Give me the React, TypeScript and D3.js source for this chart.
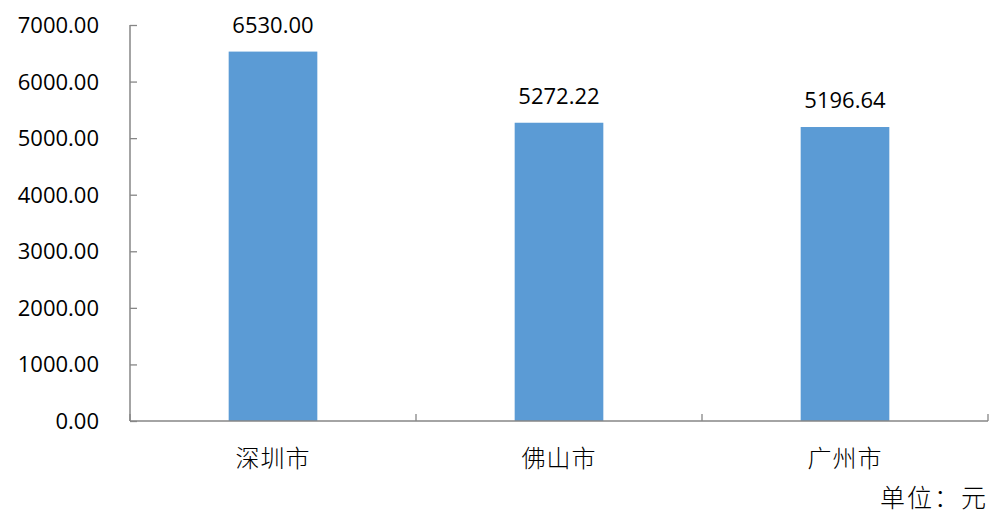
import { useEffect, useRef } from 'react';
import * as d3 from 'd3';

const cities = ['深圳市', '佛山市', '广州市'];
const values = [6530.0, 5272.22, 5196.64];
const yTicks = [0, 1000, 2000, 3000, 4000, 5000, 6000, 7000];
const unitLabel = '单位：元';

const App = () => {
  const svgRef = useRef<SVGSVGElement>(null);
  const width = 992;
  const height = 515;

  useEffect(() => {
    if (!svgRef.current) return;
    const svg = d3.select(svgRef.current);
    svg.selectAll('*').remove();

    const left = 130;
    const right = 988;
    const top = 25;
    const bottom = 421;
    const numFont = '"Open Sans", sans-serif';
    const cjkFont = '"Noto Sans CJK SC", sans-serif';

    const x = d3.scaleBand().domain(cities).range([left, right]).padding(0);
    const y = d3.scaleLinear().domain([0, 7000]).range([bottom, top]);

    const barW = x.bandwidth() * 0.31;

    // Bars
    svg.selectAll('.bar')
      .data(cities)
      .join('rect')
      .attr('class', 'bar')
      .attr('x', (d) => (x(d) || 0) + x.bandwidth() / 2 - barW / 2)
      .attr('y', (_, i) => y(values[i]))
      .attr('width', barW)
      .attr('height', (_, i) => bottom - y(values[i]))
      .attr('fill', '#5B9BD5');

    // Data labels
    svg.selectAll('.val')
      .data(cities)
      .join('text')
      .attr('class', 'val')
      .attr('x', (d) => (x(d) || 0) + x.bandwidth() / 2)
      .attr('y', (_, i) => y(values[i]) - 19)
      .attr('text-anchor', 'middle')
      .style('font-family', numFont)
      .style('font-size', '22px')
      .style('fill', '#000')
      .text((_, i) => values[i].toFixed(2));

    // Y axis
    const yAxis = d3.axisLeft(y).tickValues(yTicks).tickSize(-7).tickFormat(() => '');
    const gy = svg.append('g').attr('transform', `translate(${left},0)`).call(yAxis);
    gy.select('.domain').remove();
    gy.selectAll('.tick line').attr('stroke', '#868686').attr('stroke-width', 1.3);
    svg.append('line')
      .attr('x1', left).attr('x2', left)
      .attr('y1', top).attr('y2', bottom)
      .attr('stroke', '#868686').attr('stroke-width', 1.5);

    svg.selectAll('.ylab')
      .data(yTicks)
      .join('text')
      .attr('class', 'ylab')
      .attr('x', 99)
      .attr('y', (d) => y(d) + 8)
      .attr('text-anchor', 'end')
      .style('font-family', numFont)
      .style('font-size', '22px')
      .style('fill', '#000')
      .text((d) => d.toFixed(2));

    // X axis
    const xTickPos = [left, ...cities.map((c) => (x(c) || 0) + x.bandwidth())];
    svg.append('line')
      .attr('x1', left).attr('x2', right)
      .attr('y1', bottom).attr('y2', bottom)
      .attr('stroke', '#868686').attr('stroke-width', 1.5);
    svg.selectAll('.xtick')
      .data(xTickPos)
      .join('line')
      .attr('class', 'xtick')
      .attr('x1', (d) => d).attr('x2', (d) => d)
      .attr('y1', bottom).attr('y2', bottom - 7)
      .attr('stroke', '#868686').attr('stroke-width', 1.3);

    svg.selectAll('.xlab')
      .data(cities)
      .join('text')
      .attr('class', 'xlab')
      .attr('x', (d) => (x(d) || 0) + x.bandwidth() / 2)
      .attr('y', 467)
      .attr('text-anchor', 'middle')
      .style('font-family', cjkFont)
      .style('font-weight', 300)
      .style('font-size', '24px')
      .style('letter-spacing', '1px')
      .style('fill', '#000')
      .text((d) => d);

    svg.append('text')
      .attr('x', 988)
      .attr('y', 507)
      .attr('text-anchor', 'end')
      .style('font-family', cjkFont)
      .style('font-weight', 300)
      .style('font-size', '25px')
      .style('letter-spacing', '2px')
      .style('fill', '#000')
      .text(unitLabel);
  }, []);

  return (
    <svg
      ref={svgRef}
      width={width}
      height={height}
      style={{ position: 'absolute', left: 0, top: 0, background: '#fff' }}
    />
  );
};

export default App;
